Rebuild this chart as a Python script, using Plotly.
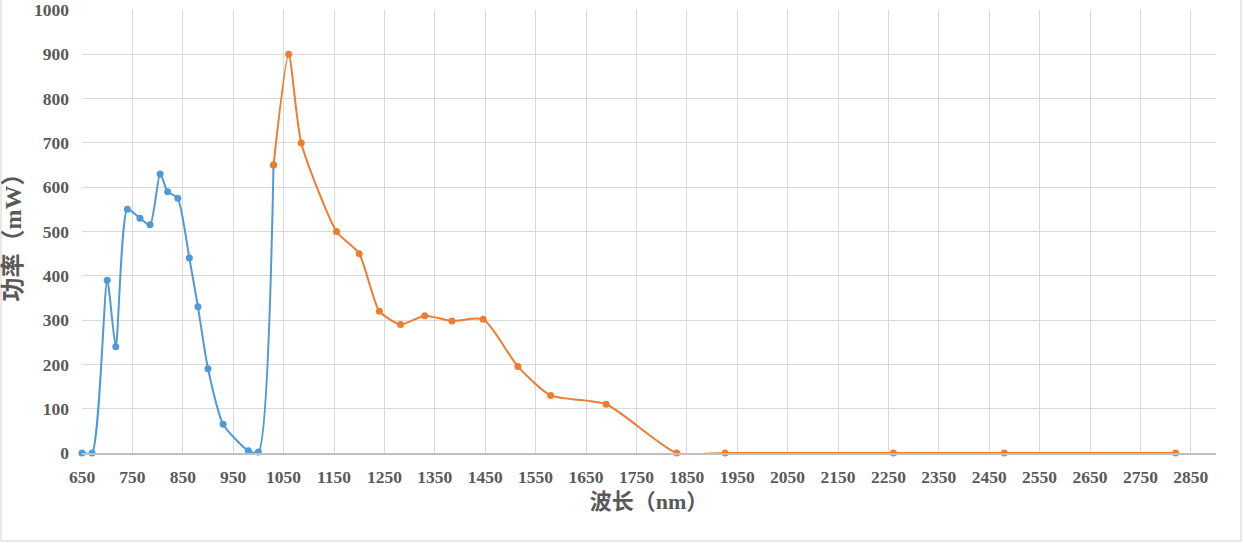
import plotly.graph_objects as go

# Blue series (first band)
blue_x = [650, 670, 700, 717, 740, 765, 785, 805, 820, 840, 863, 880, 900, 930, 980, 1000, 1030]
blue_y = [0, 0, 390, 240, 550, 530, 515, 630, 590, 575, 440, 330, 190, 65, 5, 2, 650]

# Orange series (second band)
orange_x = [1030, 1060, 1085, 1155, 1200, 1240, 1282, 1330, 1384, 1446, 1515, 1580, 1690, 1830, 1926, 2260, 2480, 2820]
orange_y = [650, 900, 700, 500, 450, 320, 290, 310, 298, 302, 195, 130, 110, 0, 0, 0, 0, 0]

x_ticks = list(range(650, 2851, 100))
y_ticks = list(range(0, 1001, 100))

BLUE = "#4E9AD9"
ORANGE = "#EE7D31"
TXT = "#595959"
GRID = "#D9D9D9"
FONT = "Liberation Serif, 'Noto Sans CJK SC', serif"

fig = go.Figure()
fig.add_trace(go.Scatter(
    x=blue_x, y=blue_y, mode="lines+markers", cliponaxis=False,
    line=dict(color=BLUE, width=2, shape="spline", smoothing=0.6),
    marker=dict(color=BLUE, size=7), showlegend=False))
fig.add_trace(go.Scatter(
    x=orange_x, y=orange_y, mode="lines+markers", cliponaxis=False,
    line=dict(color=ORANGE, width=2, shape="spline", smoothing=0.6),
    marker=dict(color=ORANGE, size=7), showlegend=False))

L, R, T, B = 82, 27, 10, 90
W, H = 1243, 543
pw = W - L - R
ph = H - T - B

fig.update_layout(
    width=W, height=H,
    margin=dict(l=L, r=R, t=T, b=B, autoexpand=False),
    paper_bgcolor="white", plot_bgcolor="white",
    font=dict(family=FONT, color=TXT, size=17),
    xaxis=dict(
        range=[650, 2900], tickvals=x_ticks, ticktext=[str(v) for v in x_ticks],
        showgrid=True, gridcolor=GRID, gridwidth=1,
        showline=True, linecolor="#BFBFBF", linewidth=1.5,
        zeroline=False, ticks="", ticklen=0, automargin=False,
        ticklabelstandoff=7,
        tickfont=dict(family=FONT, size=17.5, color=TXT, weight="bold"),
        title=dict(text="<b>波长（nm）</b>", font=dict(family=FONT, size=22, color=TXT), standoff=8),
    ),
    yaxis=dict(
        range=[0, 1000], tickvals=y_ticks, ticktext=[str(v) for v in y_ticks],
        showgrid=True, gridcolor=GRID, gridwidth=1,
        showline=False, zeroline=False, ticks="", automargin=False,
        ticklabelstandoff=12,
        tickfont=dict(family=FONT, size=17.5, color=TXT, weight="bold"),
        title=dict(text="<b>功率（mW）</b>", font=dict(family=FONT, size=24, color=TXT), standoff=10),
    ),
    shapes=[dict(
        type="rect", xref="paper", yref="paper",
        x0=(1 - L) / pw, x1=(W - 2 - L) / pw,
        y0=-(H - 2 - T - ph) / ph, y1=(H - 1 - T) / ph,
        line=dict(color="#D0D0D0", width=1), fillcolor="rgba(0,0,0,0)", layer="below")],
)

fig.write_html("out.html", config={"displayModeBar": False},
               post_script="document.body.style.margin='0';document.body.style.overflow='hidden';")
